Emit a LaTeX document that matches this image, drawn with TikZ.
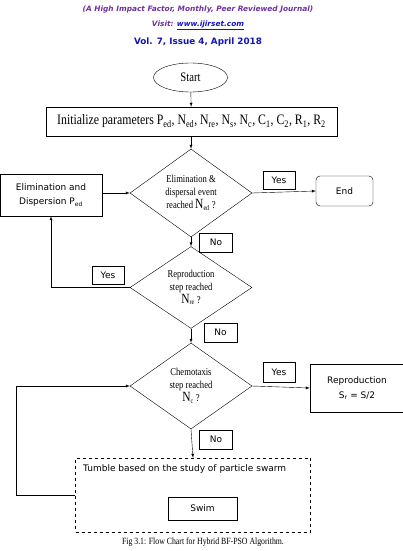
\documentclass[tikz,border=0pt]{standalone}
\usepackage{fontspec}
\setmainfont{Liberation Serif}
\newfontfamily\narrowserif[FakeStretch=0.82]{Liberation Serif}
\newfontfamily\boxsans{DejaVu Sans}
\usetikzlibrary{shapes.geometric}
\definecolor{journalpurple}{RGB}{112,48,160}
\definecolor{journalblue}{RGB}{20,20,190}
\newcommand{\bigN}{{\fontsize{14}{14}\selectfont N}}
\begin{document}
\begin{tikzpicture}[x=1pt,y=-1pt]
    \tikzset{>=latex}
    \tikzset{
      box/.style={draw,inner sep=0pt,align=center,font=\boxsans\fontsize{9}{14.5}\selectfont},
      answer/.style={draw,inner sep=0pt,minimum width=33pt,minimum height=19pt,font=\boxsans\fontsize{9}{10}\selectfont},
      decision/.style={diamond,draw,inner sep=0pt,minimum width=122pt,align=center,font=\narrowserif\fontsize{10.5}{13}\selectfont},
      heading/.style={inner sep=0pt,font=\boxsans\bfseries\itshape\fontsize{7.4}{9}\selectfont}
    }
    \useasboundingbox (0,0) rectangle (402,551);
    % journal heading
    \node[heading,text=journalpurple] (head) at (198,9) {(A High Impact Factor, Monthly, Peer Reviewed Journal)};
    \node[heading,text=journalpurple] (visit) at (198,25) {Visit: \textcolor{journalblue}{\underline{www.ijirset.com}}};
    \node[inner sep=0pt,text=journalblue,font=\boxsans\bfseries\fontsize{8.8}{10}\selectfont] (issue) at (198,42) {Vol. 7, Issue 4, April 2018};
    % flow chart
    \node[ellipse,draw,minimum width=74pt,minimum height=29pt,inner sep=0pt,font=\narrowserif\fontsize{13}{13}\selectfont] (start) at (190.5,77.5) {Start};
    \node[draw,minimum width=291pt,minimum height=29pt,inner sep=0pt,font=\narrowserif\fontsize{14.4}{15}\selectfont] (init) at (191.5,121.5)
      {Initialize parameters P\textsubscript{ed}, N\textsubscript{ed}, N\textsubscript{re}, N\textsubscript{s}, N\textsubscript{c}, C\textsubscript{1}, C\textsubscript{2}, R\textsubscript{1}, R\textsubscript{2}};
    \node[decision,minimum height=88pt] (event) at (191,193) {Elimination \&\\dispersal event\\reached \bigN\textsubscript{ed} ?};
    \node[box,minimum width=102pt,minimum height=42pt] (elim) at (51,195) {Elimination and\\Dispersion P\textsubscript{ed}};
    \node[box,rounded corners=4pt,minimum width=57pt,minimum height=30pt] (end) at (344.5,191) {End};
    \node[decision,minimum height=79pt] (repro) at (191,287.5) {Reproduction\\step reached\\\bigN\textsubscript{re} ?};
    \node[decision,minimum height=86pt] (chemo) at (191,386) {Chemotaxis\\step reached\\\bigN\textsubscript{c} ?};
    \node[box,minimum width=94pt,minimum height=48pt] (split) at (357,388) {Reproduction\\S\textsubscript{r} = S/2};
    \node[draw,dashed,minimum width=235pt,minimum height=74pt] (tumble) at (193,495) {};
    \node[anchor=west,inner sep=0pt,font=\boxsans\fontsize{9}{10}\selectfont] (tumbletext) at (83,469) {Tumble based on the study of particle swarm};
    \node[box,minimum width=69pt,minimum height=23pt] (swim) at (202.5,508.5) {Swim};
    % yes / no labels
    \node[answer,minimum width=32pt,minimum height=18pt] (yesend) at (279,180.5) {Yes};
    \node[answer] (noevent) at (216,242.5) {No};
    \node[answer,minimum width=32pt,minimum height=18pt] (yesrepro) at (108,275) {Yes};
    \node[answer] (norepro) at (220.5,332.5) {No};
    \node[answer,minimum width=32pt,minimum height=20pt] (yeschemo) at (279,372) {Yes};
    \node[answer] (nochemo) at (216,439.5) {No};
    % connectors
    \draw [->] (start) -- (init);
    \draw [->] (init.south -| event.north) -- (event.north);
    \draw [->] (elim.east |- event.west) -- (event.west);
    \draw [->] (event.east) -- (end.west);
    \draw [->] (event.south) -- (repro.north);
    \draw [->] (repro.west) -| (elim.south);
    \draw [->] (repro.south) -- (chemo.north);
    \draw [->] (chemo.east) -- (split.west);
    \draw [->] (chemo.south) -- (tumble.north);
    \draw [->] (tumble.west) -- (16,495) |- (chemo.west);
    % caption
    \node[inner sep=0pt,font=\narrowserif\fontsize{9.5}{10}\selectfont] (caption) at (203,542) {Fig 3.1: Flow Chart for Hybrid BF-PSO Algorithm.};
\end{tikzpicture}
\end{document}
